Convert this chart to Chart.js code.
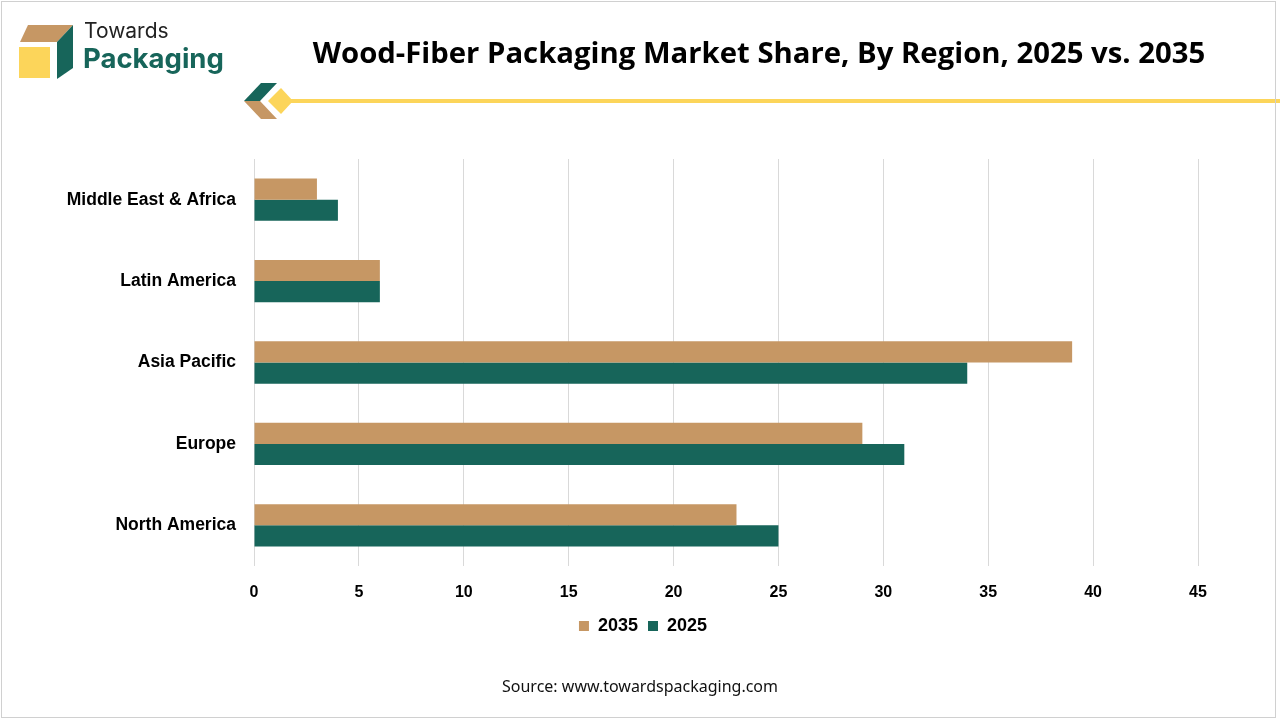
<!DOCTYPE html>
<html>
<head>
<meta charset="utf-8">
<script src="https://cdn.jsdelivr.net/npm/chart.js@4"></script>
<style>
  html, body { margin: 0; padding: 0; background: #fff; }
  #page { position: relative; width: 1280px; height: 720px; overflow: hidden; }
  #frame { position: absolute; left: 1px; top: 1px; width: 1275px; height: 717px; border: 1px solid #d0d0d0; box-sizing: border-box; pointer-events: none; }
  #chart { position: absolute; left: 0; top: 0; }
  .txt { position: absolute; white-space: nowrap; }
  #title { left: 300px; top: 32px; width: 918px; text-align: center; font: bold 29.3px "Open Sans", sans-serif; color: #000; }
  #brand1 { left: 84px; top: 18px; font: 21px "Inter", sans-serif; color: #222; }
  #brand2 { left: 83px; top: 41px; font: bold 27.5px "Inter", sans-serif; color: #17655a; }
  #source { left: 0; width: 1280px; top: 675px; text-align: center; font: 16px "Noto Sans", sans-serif; color: #111; }
</style>
</head>
<body>
<div id="page">
  <canvas id="chart" width="1280" height="720"></canvas>
  <svg class="txt" style="left:0;top:0" width="1280" height="130">
    <!-- logo cube -->
    <polygon points="28,25 73,25 57,42 20,42" fill="#c69764"/>
    <rect x="19" y="47" width="31" height="31" fill="#fcd55a"/>
    <polygon points="73,25 73,68 57,79 57,42" fill="#17655a"/>
    <!-- divider ornament -->
    <polygon points="261,83 277,83 260,101 244,101" fill="#17655a"/>
    <polygon points="244,101 260,101 277,119 261,119" fill="#c69764"/>
    <polygon points="281,88 293,101 281,114 268,101" fill="#fcd55a"/>
    <rect x="290" y="99" width="990" height="4" fill="#fcd55a"/>
  </svg>
  <div id="brand1" class="txt">Towards</div>
  <div id="brand2" class="txt">Packaging</div>
  <div id="title" class="txt">Wood-Fiber Packaging Market Share, By Region, 2025 vs. 2035</div>
  <div id="source" class="txt">Source: www.towardspackaging.com</div>
  <div id="frame"></div>
</div>
<script>
const regions = ['Middle East & Africa', 'Latin America', 'Asia Pacific', 'Europe', 'North America'];
const share2035 = [3, 6, 39, 29, 23];
const share2025 = [4, 6, 34, 31, 25];
const xTicks = [0, 5, 10, 15, 20, 25, 30, 35, 40, 45];

const tan = '#c69764';
const green = '#17655a';
const labelFont = '"Liberation Sans", Arial, sans-serif';

Chart.defaults.color = '#000';

// centre the legend on the page rather than on the padded canvas
const legendShift = {
  id: 'legendShift',
  afterLayout(chart) {
    const lg = chart.legend;
    if (lg) { lg.left += 44; lg.right += 44; }
  }
};

new Chart(document.getElementById('chart').getContext('2d'), {
  type: 'bar',
  data: {
    labels: regions,
    datasets: [
      { label: '2035', data: share2035, backgroundColor: tan, categoryPercentage: 0.52, barPercentage: 1 },
      { label: '2025', data: share2025, backgroundColor: green, categoryPercentage: 0.52, barPercentage: 1 }
    ]
  },
  options: {
    indexAxis: 'y',
    responsive: false,
    animation: false,
    layout: { padding: { top: 159, right: 82, bottom: 75, left: 0 } },
    plugins: {
      legend: {
        position: 'bottom',
        labels: {
          boxWidth: 10, boxHeight: 10, padding: 10,
          font: { family: labelFont, size: 18, weight: 'bold' },
          color: '#000'
        }
      },
      tooltip: { enabled: false }
    },
    scales: {
      x: {
        min: 0, max: 45,
        afterBuildTicks: s => { s.ticks = xTicks.map(v => ({ value: v })); },
        afterFit: s => { s.height = 41; },
        grid: { color: '#d9d9d9', drawTicks: false },
        border: { display: false },
        ticks: { padding: 17, font: { family: labelFont, size: 16, weight: 'bold' }, color: '#000' }
      },
      y: {
        afterFit: s => { s.width = 254; },
        grid: { display: false, drawTicks: false },
        border: { display: false },
        ticks: { padding: 18, font: { family: labelFont, size: 17.5, weight: 'bold' }, color: '#000' }
      }
    }
  },
  plugins: [legendShift]
});
</script>
</body>
</html>
